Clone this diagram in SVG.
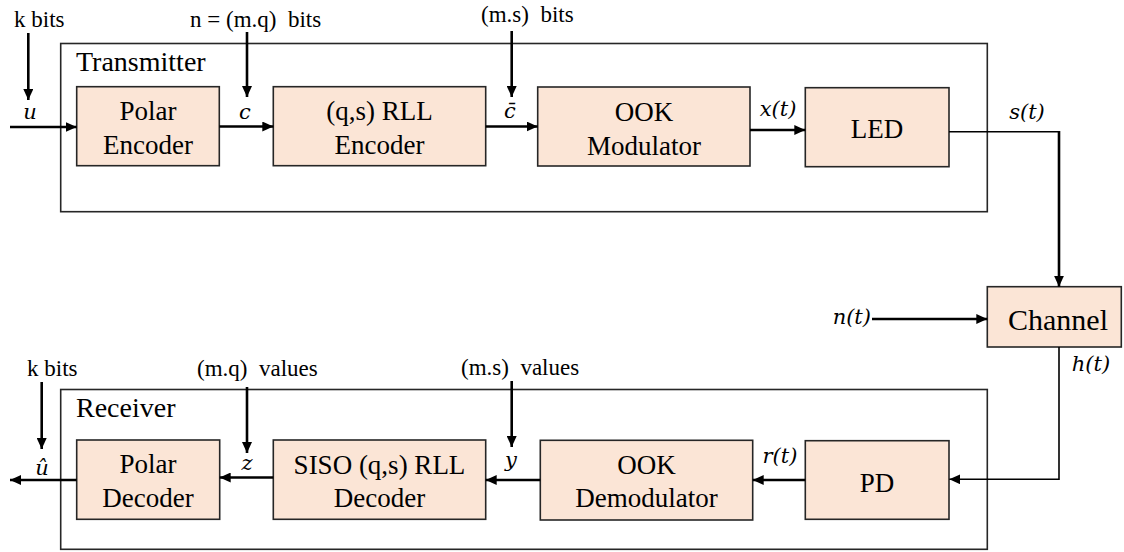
<svg xmlns="http://www.w3.org/2000/svg" width="1124" height="552" viewBox="0 0 1124 552">
  <style>
    .frame { fill: none; stroke: #262626; stroke-width: 1.6; }
    .blk { fill: #FBE5D6; stroke: #262626; stroke-width: 1.6; }
    .w { fill: none; stroke: #000; stroke-width: 2.6; }
    .thin { fill: none; stroke: #000; stroke-width: 1.6; }
    text.sf { font-family: 'Liberation Serif', serif !important; fill: #000; }
    text.bt { font-size: 27px; text-anchor: middle; }
    text.lbl { font-size: 23px; white-space: pre; }
    text.mt { font-family: 'DejaVu Serif', serif !important; font-style: italic; font-size: 21px; text-anchor: middle; fill: #000; }
  </style>
  <defs>
    <marker id="ah" markerUnits="userSpaceOnUse" markerWidth="12" markerHeight="10" refX="11" refY="5" orient="auto">
      <path d="M0,0 L11,5 L0,10 Z" fill="#000"/>
    </marker>
  </defs>
  <rect width="1124" height="552" fill="#fff"/>

  <!-- Transmitter frame -->
  <g id="transmitter">
    <rect class="frame" x="60.7" y="43.5" width="926.6" height="168.2"/>
    <text class="sf" style="font-family:'Liberation Serif',serif !important;font-size:28px" x="76" y="71">Transmitter</text>
  </g>

  <!-- Receiver frame -->
  <g id="receiver">
    <rect class="frame" x="60.7" y="389.5" width="926.6" height="159.8"/>
    <text class="sf" style="font-family:'Liberation Serif',serif !important;font-size:28px" x="76" y="417">Receiver</text>
  </g>

  <!-- Transmitter blocks -->
  <g id="polar-encoder">
    <rect class="blk" x="76.7" y="86.7" width="142.6" height="79"/>
    <text class="sf bt" style="font-family:'Liberation Serif',serif !important" x="148" y="120">Polar</text>
    <text class="sf bt" style="font-family:'Liberation Serif',serif !important" x="148" y="154">Encoder</text>
  </g>
  <g id="rll-encoder">
    <rect class="blk" x="273.3" y="86.7" width="212.4" height="79"/>
    <text class="sf bt" style="font-family:'Liberation Serif',serif !important" x="379.5" y="120">(q,s) RLL</text>
    <text class="sf bt" style="font-family:'Liberation Serif',serif !important" x="379.5" y="154">Encoder</text>
  </g>
  <g id="ook-modulator">
    <rect class="blk" x="537.7" y="87" width="212.3" height="79"/>
    <text class="sf bt" style="font-family:'Liberation Serif',serif !important" x="644" y="120.5">OOK</text>
    <text class="sf bt" style="font-family:'Liberation Serif',serif !important" x="644" y="155">Modulator</text>
  </g>
  <g id="led">
    <rect class="blk" x="805.3" y="87.7" width="143.7" height="79"/>
    <text class="sf bt" style="font-family:'Liberation Serif',serif !important" x="877" y="138">LED</text>
  </g>

  <!-- Channel -->
  <g id="channel">
    <rect class="blk" x="987.3" y="286.7" width="134" height="60.3"/>
    <text class="sf bt" style="font-family:'Liberation Serif',serif !important;font-size:30px" x="1058" y="330">Channel</text>
  </g>

  <!-- Receiver blocks -->
  <g id="pd">
    <rect class="blk" x="805.3" y="440.7" width="143.7" height="78.6"/>
    <text class="sf bt" style="font-family:'Liberation Serif',serif !important" x="877" y="491.5">PD</text>
  </g>
  <g id="ook-demodulator">
    <rect class="blk" x="540.3" y="440.3" width="212.4" height="79.7"/>
    <text class="sf bt" style="font-family:'Liberation Serif',serif !important" x="646.5" y="474">OOK</text>
    <text class="sf bt" style="font-family:'Liberation Serif',serif !important" x="646.5" y="507">Demodulator</text>
  </g>
  <g id="siso-rll-decoder">
    <rect class="blk" x="273.3" y="440" width="212.4" height="79.3"/>
    <text class="sf bt" style="font-family:'Liberation Serif',serif !important" x="379.5" y="474">SISO (q,s) RLL</text>
    <text class="sf bt" style="font-family:'Liberation Serif',serif !important" x="379.5" y="507">Decoder</text>
  </g>
  <g id="polar-decoder">
    <rect class="blk" x="76.7" y="440" width="143" height="79.3"/>
    <text class="sf bt" style="font-family:'Liberation Serif',serif !important" x="148" y="473">Polar</text>
    <text class="sf bt" style="font-family:'Liberation Serif',serif !important" x="148" y="507">Decoder</text>
  </g>

  <!-- Connectors -->
  <g id="connectors">
    <!-- transmitter chain -->
    <line class="w" x1="10" y1="127" x2="76.7" y2="127" marker-end="url(#ah)"/>
    <line class="w" x1="28.3" y1="33" x2="28.3" y2="100" marker-end="url(#ah)"/>
    <line class="w" x1="219.3" y1="126.5" x2="273.3" y2="126.5" marker-end="url(#ah)"/>
    <line class="w" x1="247" y1="32" x2="247" y2="97" marker-end="url(#ah)"/>
    <line class="w" x1="485.7" y1="126.5" x2="537.7" y2="126.5" marker-end="url(#ah)"/>
    <line class="w" x1="511.7" y1="31" x2="511.7" y2="97" marker-end="url(#ah)"/>
    <line class="w" x1="750" y1="130" x2="805.3" y2="130" marker-end="url(#ah)"/>
    <!-- LED to channel -->
    <line class="thin" x1="949" y1="131.7" x2="1060" y2="131.7"/>
    <line class="w" x1="1059" y1="131" x2="1059" y2="286.7" marker-end="url(#ah)"/>
    <!-- noise -->
    <line class="w" x1="872" y1="319" x2="987.3" y2="319" marker-end="url(#ah)"/>
    <!-- channel to PD -->
    <polyline class="thin" points="1059,347 1059,479.3 949.3,479.3" marker-end="url(#ah)"/>
    <!-- receiver chain -->
    <line class="w" x1="805.3" y1="480" x2="752.7" y2="480" marker-end="url(#ah)"/>
    <line class="w" x1="540.3" y1="480" x2="485.7" y2="480" marker-end="url(#ah)"/>
    <line class="w" x1="273.3" y1="477.5" x2="219.7" y2="477.5" marker-end="url(#ah)"/>
    <line class="w" x1="76.7" y1="480" x2="10" y2="480" marker-end="url(#ah)"/>
    <line class="w" x1="41.7" y1="382" x2="41.7" y2="449" marker-end="url(#ah)"/>
    <line class="w" x1="247" y1="387" x2="247" y2="453" marker-end="url(#ah)"/>
    <line class="w" x1="511.7" y1="381" x2="511.7" y2="447" marker-end="url(#ah)"/>
  </g>

  <!-- Side labels -->
  <g id="labels">
    <text class="sf lbl" x="14" y="27">k bits</text>
    <text class="sf lbl" x="190" y="27">n = (m.q)  bits</text>
    <text class="sf lbl" x="481" y="22">(m.s)  bits</text>
    <text class="sf lbl" x="27" y="376">k bits</text>
    <text class="sf lbl" x="197" y="376">(m.q)  values</text>
    <text class="sf lbl" x="461" y="375">(m.s)  values</text>
  </g>
  <g id="signals">
    <text class="mt" x="30" y="119">u</text>
    <text class="mt" x="245" y="119">c</text>
    <text class="mt" x="510" y="118">c̄</text>
    <text class="mt" x="778" y="116">x(t)</text>
    <text class="mt" x="1027" y="119">s(t)</text>
    <text class="mt" x="871" y="324" style="text-anchor:end">n(t)</text>
    <text class="mt" x="1091" y="371">h(t)</text>
    <text class="mt" x="780" y="463">r(t)</text>
    <text class="mt" x="511" y="467">y</text>
    <text class="mt" x="247" y="470">z</text>
    <text class="mt" x="42" y="475">û</text>
  </g>
</svg>
